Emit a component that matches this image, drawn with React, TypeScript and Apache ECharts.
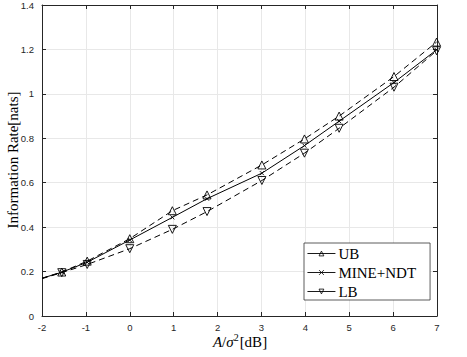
import React, { useEffect, useRef } from "react";
import * as echarts from "echarts";

const xDb = [-1.55, -0.97, 0, 0.97, 1.76, 3.01, 3.98, 4.77, 6.02, 6.99];
const ubValues = [0.198, 0.247, 0.348, 0.474, 0.545, 0.68, 0.797, 0.9, 1.078, 1.233];
const mineValues = [0.197, 0.242, 0.342, 0.444, 0.528, 0.643, 0.767, 0.877, 1.051, 1.198];
const lbValues = [0.195, 0.232, 0.303, 0.39, 0.47, 0.61, 0.733, 0.845, 1.03, 1.194];
const startX = -2;
const startValues = [0.17, 0.17, 0.168];
const seriesNames = ["UB", "MINE+NDT", "LB"];

function buildData(start: number, vals: number[]) {
  return [
    { value: [startX, start], symbol: "none" },
    ...vals.map((v, i) => ({ value: [xDb[i], v] })),
  ];
}

export default function App() {
  const ref = useRef<HTMLDivElement>(null);
  useEffect(() => {
    document.body.style.margin = "0";
    const chart = echarts.init(ref.current!, null, { renderer: "svg" });
    const axisCol = "#262626";
    const tickFont = { fontFamily: "Liberation Sans", fontSize: 9.5, color: axisCol };
    const markerStyle = { color: "rgba(0,0,0,0)", borderColor: "#000", borderWidth: 0.9 };
    const axisLine = { show: true, onZero: false, lineStyle: { color: axisCol, width: 1 } };
    const axisTick = { show: true, inside: true, length: 4, lineStyle: { color: axisCol } };
    chart.setOption({
      animation: false,
      backgroundColor: "#fff",
      grid: { left: 42, right: 30, top: 5, bottom: 41 },
      xAxis: [
        {
          type: "value", min: -2, max: 7, interval: 1,
          axisLine, axisTick,
          axisLabel: { ...tickFont, margin: 6 },
          splitLine: { show: true, lineStyle: { color: "#e8e8e8", width: 1 } },
        },
        {
          type: "value", min: -2, max: 7, interval: 1, position: "top",
          axisLine, axisTick,
          axisLabel: { show: false }, splitLine: { show: false },
        },
      ],
      yAxis: [
        {
          type: "value", min: 0, max: 1.4, interval: 0.2,
          axisLine, axisTick,
          axisLabel: { ...tickFont, margin: 8 },
          splitLine: { show: true, lineStyle: { color: "#e8e8e8", width: 1 } },
        },
        {
          type: "value", min: 0, max: 1.4, interval: 0.2, position: "right",
          axisLine, axisTick,
          axisLabel: { show: false }, splitLine: { show: false },
        },
      ],
      legend: {
        orient: "vertical",
        left: 304,
        top: 243,
        padding: [3, 14, 1, 3],
        itemGap: 4,
        itemWidth: 28,
        itemHeight: 6,
        backgroundColor: "#fff",
        borderColor: "#333",
        borderWidth: 0.8,
        borderRadius: 0,
        lineStyle: { type: "solid", width: 0.9 },
        itemStyle: { color: "rgba(0,0,0,0)", borderColor: "#000", borderWidth: 0.8 },
        textStyle: { fontFamily: "Liberation Serif", fontSize: 15, color: "#000", padding: [0, 0, 0, -2] },
        data: seriesNames,
      },
      graphic: [
        {
          type: "text",
          x: 240,
          y: 342,
          style: {
            text: "{i|A}/{i|σ}{s|2}[dB]",
            align: "center",
            verticalAlign: "middle",
            fill: "#000",
            font: "15px 'Liberation Serif'",
            rich: {
              i: { fontFamily: "Liberation Serif", fontStyle: "italic", fontSize: 15 },
              s: { fontFamily: "Liberation Serif", fontSize: 10, padding: [0, 1, 9, 0] },
            },
          },
        },
        {
          type: "text",
          x: 13,
          y: 160,
          rotation: Math.PI / 2,
          style: {
            text: "Information Rate[nats]",
            align: "center",
            verticalAlign: "middle",
            fill: "#000",
            font: "15px 'Liberation Serif'",
          },
        },
      ],
      series: [
        {
          name: seriesNames[0], type: "line",
          data: buildData(startValues[0], ubValues),
          symbol: "triangle", symbolSize: 8, showAllSymbol: true,
          lineStyle: { color: "#000", width: 1, type: [6, 4] },
          itemStyle: markerStyle,
        },
        {
          name: seriesNames[1], type: "line",
          data: buildData(startValues[1], mineValues),
          symbol: "path://M0,0L10,10M10,0L0,10", symbolSize: 4, showAllSymbol: true,
          lineStyle: { color: "#000", width: 1, type: "solid" },
          itemStyle: markerStyle,
        },
        {
          name: seriesNames[2], type: "line",
          data: buildData(startValues[2], lbValues),
          symbol: "triangle", symbolRotate: 180, symbolSize: 8, showAllSymbol: true,
          lineStyle: { color: "#000", width: 1, type: [6, 4] },
          itemStyle: markerStyle,
        },
      ],
    });
    return () => chart.dispose();
  }, []);
  return <div ref={ref} style={{ width: 467, height: 357 }} />;
}
